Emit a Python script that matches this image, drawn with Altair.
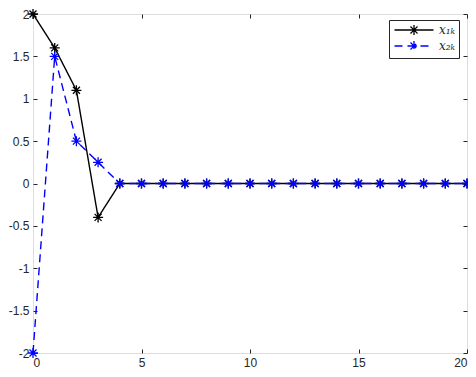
import altair as alt
import pandas as pd

k = list(range(21))
x1 = [2, 1.6, 1.1, -0.4, 0, 0, 0, 0, 0, 0, 0, 0, 0, 0, 0, 0, 0, 0, 0, 0, 0]
x2 = [-2, 1.5, 0.5, 0.25, 0, 0, 0, 0, 0, 0, 0, 0, 0, 0, 0, 0, 0, 0, 0, 0, 0]
series = ["x₁ₖ", "x₂ₖ"]
colors = ["#000000", "#0000ff"]
dashes = [[1, 0], [8, 5]]
x_ticks = [0, 5, 10, 15, 20]
y_ticks = [-2, -1.5, -1, -0.5, 0, 0.5, 1, 1.5, 2]

df = pd.DataFrame({
    "k": k + k,
    "value": x1 + x2,
    "series": [series[0]] * len(k) + [series[1]] * len(k),
})

STAR = "M-1,0L1,0M0,-1L0,1M-0.7,-0.7L0.7,0.7M-0.7,0.7L0.7,-0.7"
LEG = "M-3.9,0L3.9,0M0,-1L0,1M-0.7,-0.7L0.7,0.7M-0.7,0.7L0.7,-0.7M-1,0L1,0"

xs = alt.Scale(domain=[0, 20], nice=False)
ys = alt.Scale(domain=[-2, 2], nice=False)
cs = alt.Scale(domain=series, range=colors)
ds = alt.Scale(domain=series, range=dashes)

legend = alt.Legend(
    title=None, orient="none", legendX=356, legendY=6,
    symbolType=LEG, symbolSize=100, symbolStrokeWidth=1.3,
    symbolOffset=15, labelOffset=19,
    labelFont="DejaVu Serif", labelFontStyle="italic", labelFontSize=12,
    labelColor="#262626",
    padding=4, rowPadding=0,
    strokeColor="#262626", fillColor="white",
)

FONT = "Liberation Sans"
common = dict(domain=False, grid=False, title=None, tickColor="#262626",
              tickWidth=1, labelFont=FONT, labelFontSize=12,
              labelColor="#262626")

ax_x = alt.Axis(orient="bottom", values=x_ticks, offset=-4, tickSize=4,
                labelPadding=4, labelExpr="datum.value + ''", **common)
ax_y = alt.Axis(orient="left", values=y_ticks, offset=-4, tickSize=4,
                labelPadding=4, labelExpr="datum.value + ''", **common)
ax_x2 = alt.Axis(orient="top", values=x_ticks, offset=-4, tickSize=4,
                 labels=False, **common)
ax_y2 = alt.Axis(orient="right", values=y_ticks, offset=-4, tickSize=4,
                 labels=False, **common)

lines = alt.Chart(df).mark_line(strokeWidth=1.4).encode(
    x=alt.X("k:Q", scale=xs, axis=ax_x2),
    y=alt.Y("value:Q", scale=ys, axis=ax_y2),
    color=alt.Color("series:N", scale=cs, legend=legend),
    strokeDash=alt.StrokeDash("series:N", scale=ds, legend=legend),
    detail="series:N",
)

points = alt.Chart(df).mark_point(shape=STAR, filled=False, size=100,
                                   strokeWidth=1.3, opacity=1).encode(
    x=alt.X("k:Q", scale=xs, axis=ax_x),
    y=alt.Y("value:Q", scale=ys, axis=ax_y),
    color=alt.Color("series:N", scale=cs, legend=legend),
)

chart = alt.layer(lines, points).resolve_axis(
    x="independent", y="independent"
).properties(
    width=434, height=339,
    autosize=alt.AutoSizeParams(type="none"),
    padding={"left": 25, "top": 6, "right": 1, "bottom": 15},
).configure_view(
    stroke="#262626", strokeWidth=1
).configure(background="white")

chart.save("out.html", embed_options={"renderer": "svg", "actions": False})
